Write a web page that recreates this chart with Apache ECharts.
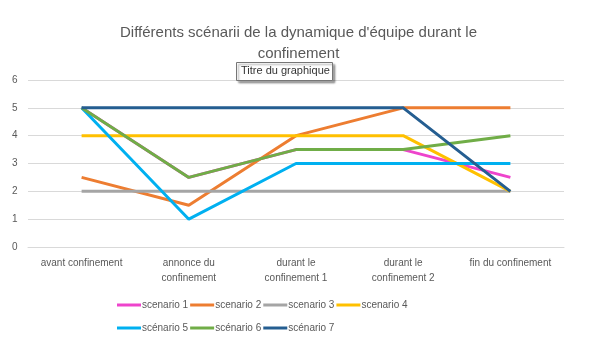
<!DOCTYPE html>
<html><head><meta charset="utf-8">
<script src="https://cdn.jsdelivr.net/npm/echarts@6/dist/echarts.min.js"></script>
<style>html,body{margin:0;padding:0;background:#fff}#c{width:597px;height:359px}</style>
</head><body><div id="c"></div>
<script>
const categories = ['avant confinement', 'annonce du\nconfinement', 'durant le\nconfinement 1', 'durant le\nconfinement 2', 'fin du confinement'];
const seriesNames = ['scenario 1', 'scenario 2', 'scenario 3', 'scenario 4', 'scénario 5', 'scénario 6', 'scénario 7'];
const scenario1 = [5, 2.5, 3.5, 3.5, 2.5];
const scenario2 = [2.5, 1.5, 4, 5, 5];
const scenario3 = [2, 2, 2, 2, 2];
const scenario4 = [4, 4, 4, 4, 2];
const scenario5 = [5, 1, 3, 3, 3];
const scenario6 = [5, 2.5, 3.5, 3.5, 4];
const scenario7 = [5, 5, 5, 5, 2];
const colors = ['#EE44CC', '#ED7D31', '#A5A5A5', '#FFC000', '#00B0F0', '#70AD47', '#255E91'];
const allData = [scenario1, scenario2, scenario3, scenario4, scenario5, scenario6, scenario7];
const font = 'Liberation Sans';
const legendBase = {
  itemWidth: 24, itemHeight: 3, itemGap: 2, icon: 'rect', orient: 'horizontal',
  textStyle: {color: '#595959', fontSize: 10, fontFamily: font, padding: [0,0,0,-4]}
};
const chart = echarts.init(document.getElementById('c'));
chart.setOption({
  animation: false,
  color: colors,
  textStyle: {fontFamily: font},
  title: {
    text: 'Différents scénarii de la dynamique d\'équipe durant le\nconfinement',
    left: 'center', top: 17,
    textStyle: {fontFamily: font, fontSize: 15, fontWeight: 'normal', color: '#595959', lineHeight: 21}
  },
  grid: {left: 28, right: 33, top: 80, bottom: 112},
  xAxis: {
    type: 'category', data: categories, boundaryGap: true,
    axisLine: {show: true, lineStyle: {color: '#D9D9D9'}},
    axisTick: {show: false},
    axisLabel: {color: '#595959', fontSize: 10, fontFamily: font, margin: 9, lineHeight: 15, interval: 0}
  },
  yAxis: {
    type: 'value', min: 0, max: 6, interval: 1,
    axisLine: {show: false}, axisTick: {show: false},
    splitLine: {lineStyle: {color: '#D9D9D9'}},
    axisLabel: {color: '#595959', fontSize: 10, fontFamily: font, margin: 13, align: 'left', padding: [0,0,0,-3]}
  },
  legend: [
    Object.assign({left: 112, top: 295, data: seriesNames.slice(0, 4)}, legendBase),
    Object.assign({left: 112, top: 318, data: seriesNames.slice(4)}, legendBase)
  ],
  series: allData.map((d, i) => ({
    name: seriesNames[i], type: 'line', data: d, symbol: 'none',
    lineStyle: {width: 3, color: colors[i]}, z: 2 + i
  })),
  graphic: [{
    type: 'rect', left: 236, top: 62, shape: {width: 96, height: 18},
    style: {fill: '#fff', stroke: '#767676', lineWidth: 1, shadowColor: 'rgba(0,0,0,0.35)', shadowOffsetX: 2, shadowOffsetY: 2, shadowBlur: 2}, z: 100
  }, {
    type: 'text', left: 241, top: 65,
    style: {text: 'Titre du graphique', fill: '#333', font: '11px "Liberation Sans"'}, z: 101
  }]
});
</script></body></html>
